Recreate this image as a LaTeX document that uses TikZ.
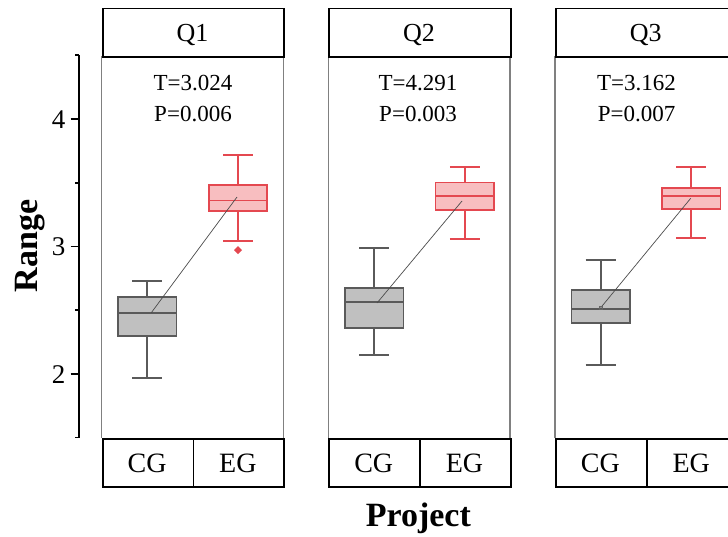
\documentclass[tikz,border=0pt]{standalone}
\usepackage{fontspec}
\setmainfont{Liberation Serif}
\definecolor{cgfill}{RGB}{192,192,192}
\definecolor{cgline}{RGB}{90,90,90}
\definecolor{egfill}{RGB}{248,190,192}
\definecolor{egline}{RGB}{228,72,80}
\definecolor{framegray}{RGB}{128,128,128}
\tikzset{
  stripbox/.style={draw=black, line width=1.8pt},
  plotframe/.style={draw=framegray, line width=1.2pt},
  cgstyle/.style={draw=cgline, line width=1.8pt},
  egstyle/.style={draw=egline, line width=1.6pt},
  meanline/.style={draw=black!70, line width=0.7pt},
  meanmark/.style={draw=black!60, line width=0.6pt},
  axisline/.style={draw=black, line width=1.7pt},
  ticklabel/.style={font=\fontsize{27}{30}\selectfont, anchor=base east, inner sep=0pt},
  striptext/.style={font=\fontsize{26}{30}\selectfont, anchor=base, inner sep=0pt},
  grouptext/.style={font=\fontsize{28}{32}\selectfont, anchor=base, inner sep=0pt},
  stattext/.style={font=\fontsize{23}{27}\selectfont, anchor=base, inner sep=0pt},
  axistitle/.style={font=\fontsize{34}{38}\selectfont\bfseries, anchor=base, inner sep=0pt}
}
% box plot: centre x, box top, box bottom, median, whisker top, whisker bottom, style, fill
\newcommand{\drawbox}[8]{%
  \draw[#7] (#1,#5) -- (#1,#2) (#1,#3) -- (#1,#6);
  \draw[#7] ({#1-15},#5) -- ({#1+15},#5) ({#1-15},#6) -- ({#1+15},#6);
  \draw[#7, fill=#8] ({#1-29.2},#2) rectangle ({#1+29.2},#3);
  \draw[#7] ({#1-29.2},#4) -- ({#1+29.2},#4);
}
\begin{document}
\begin{tikzpicture}[x=1pt, y=-1pt]
\useasboundingbox (0,0) rectangle (728,536);
\clip (0,0) rectangle (728,536);
\fill[white] (0,0) rectangle (728,536);

% y axis
\draw[axisline] (78.7,55.3) -- (78.7,437.7);
\foreach \yy in {119,246.4,373.7} \draw[axisline] (70.7,\yy) -- (78.7,\yy);
\foreach \yy in {55.3,182.7,310,437.4} \draw[axisline] (75,\yy) -- (78.7,\yy);
\node[ticklabel] (t4) at (65.5,128.3) {4};
\node[ticklabel] (t3) at (65.5,255.7) {3};
\node[ticklabel] (t2) at (65.5,383) {2};
\node[axistitle, rotate=90] (ytitle) at (37,246) {Range};
\node[axistitle] (xtitle) at (418.3,526.7) {Project};

% panels
\foreach \px/\q/\tv/\pv/\sx in {101.7/Q1/3.024/0.006/193, 328.3/Q2/4.291/0.003/418, 555/Q3/3.162/0.007/636.5}{
  \draw[plotframe] (\px,56) -- (\px,438) ({\px+181.6},56) -- ({\px+181.6},438);
  \node[stripbox, minimum width=181.6pt, minimum height=48.5pt, anchor=north west, inner sep=0pt]
    (strip\q) at (\px,7.5) {};
  \node[striptext] (lab\q) at ({\px+90.8},41.7) {\q};
  \node[stattext] (tval\q) at (\sx,90.7) {T=\tv};
  \node[stattext] (pval\q) at (\sx,121.7) {P=\pv};
  \node[stripbox, minimum width=90.8pt, minimum height=48.3pt, anchor=north west, inner sep=0pt]
    (cg\q) at (\px,437.7) {};
  \node[stripbox, minimum width=90.8pt, minimum height=48.3pt, anchor=north west, inner sep=0pt]
    (eg\q) at ({\px+90.8},437.7) {};
  \node[grouptext] (cgl\q) at ({\px+45.4},472.7) {CG};
  \node[grouptext] (egl\q) at ({\px+136.2},472.7) {EG};
}

% Q1
\drawbox{147.3}{296.7}{336}{313.3}{281.3}{377.7}{cgstyle}{cgfill}
\drawbox{238}{185}{210.7}{200.3}{154.7}{240.7}{egstyle}{egfill}
\fill[egline] (238,246) -- (242,250) -- (238,254) -- (234,250) -- cycle;
\coordinate (m1c) at (151.3,312.7);
\coordinate (m1e) at (237,197);
\draw[meanline] (m1c) -- (m1e);

% Q2
\drawbox{374.2}{288.3}{328}{302}{248.3}{355.3}{cgstyle}{cgfill}
\drawbox{464.8}{182.3}{210}{195.7}{166.7}{238.7}{egstyle}{egfill}
\coordinate (m2c) at (377,303);
\coordinate (m2e) at (462,201);
\draw[meanline] (m2c) -- (m2e);

% Q3
\drawbox{600.7}{290}{322.7}{309.3}{260}{365.3}{cgstyle}{cgfill}
\drawbox{691.2}{187.7}{209}{195.7}{166.7}{237.7}{egstyle}{egfill}
\coordinate (m3c) at (600.7,307.7);
\coordinate (m3e) at (690.7,198.3);
\draw[meanline] (m3c) -- (m3e);
\draw[meanmark] (599,306) rectangle (602.4,309.4);
\end{tikzpicture}
\end{document}
